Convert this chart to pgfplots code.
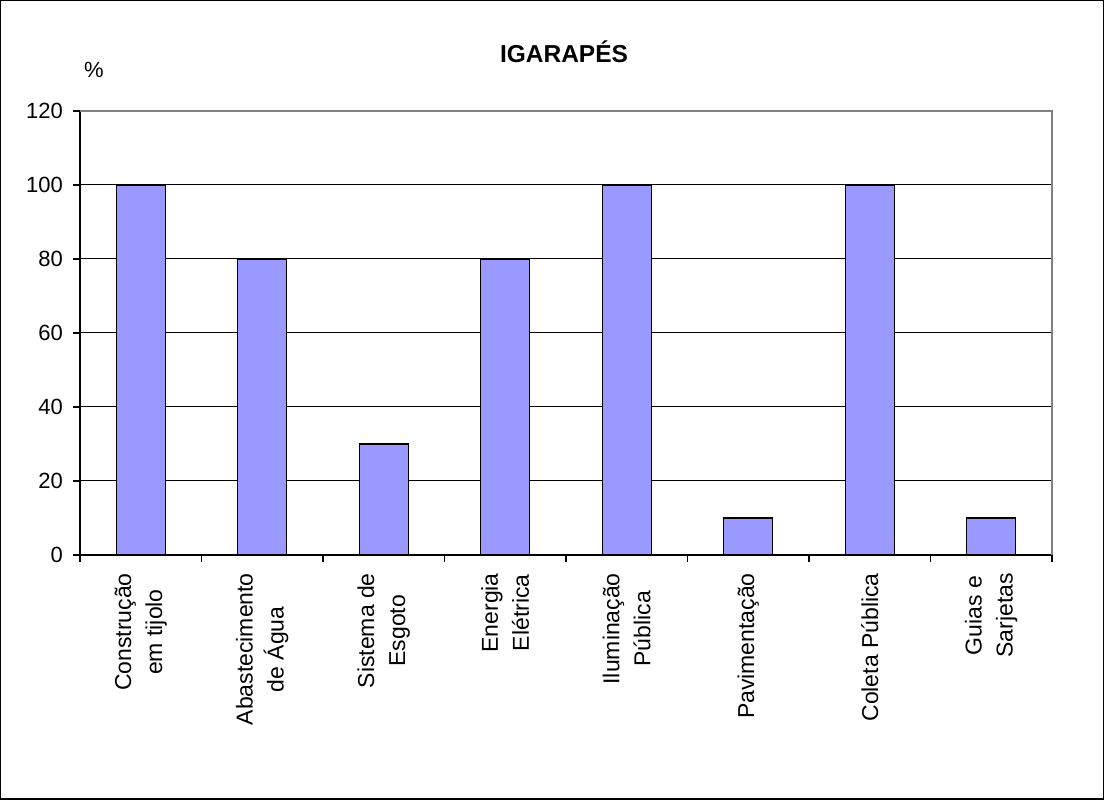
\documentclass[border=0pt]{standalone}
\usepackage{pgfplots}
\pgfplotsset{compat=1.18}
\usepackage{fontspec}
\setmainfont{Liberation Sans}
\definecolor{barblue}{HTML}{9999FF}
\begin{document}
\begin{tikzpicture}[x=1bp,y=1bp]
\draw[line width=1.5bp] (0.75,0.75) rectangle (1103.25,799.25);
\node[font=\bfseries\fontsize{24.5bp}{28bp}\selectfont] at (564,748) {IGARAPÉS};
\node[font=\fontsize{22bp}{26bp}\selectfont] at (94,730) {\%};
\begin{axis}[
  at={(80bp,245bp)}, anchor=south west,
  scale only axis, width=972bp, height=444bp,
  xmin=0, xmax=8, ymin=0, ymax=120,
  axis x line*=bottom, axis y line*=left,
  axis line style={-, black, line width=1.3bp},
  ytick={0,20,...,120},
  ymajorgrids, major grid style={black, line width=1bp},
  tick align=outside,
  major tick length=7bp, minor tick length=7bp,
  tick style={black, line width=1.2bp},
  xtick={0.5,1.5,...,7.5},
  major x tick style={draw=none},
  minor xtick={0,1,...,8},
  xticklabels={{Construção\\em tijolo},{Abastecimento\\de Água},{Sistema de\\Esgoto},{Energia\\Elétrica},{Iluminação\\Pública},{Pavimentação},{Coleta Pública},{Guias e\\Sarjetas}},
  xticklabel style={rotate=90, anchor=east, align=center, inner sep=0pt, font=\fontsize{23bp}{31bp}\selectfont},
  xticklabel shift=11bp,
  yticklabel style={inner sep=0pt, font=\fontsize{22bp}{26bp}\selectfont},
  yticklabel shift=10bp,
  /pgf/number format/assume math mode=true,
  clip=false,
]
\addplot[ybar, bar width=49bp, fill=barblue, draw=black, line width=1.4bp]
  coordinates {(0.5,100) (1.5,80) (2.5,30) (3.5,80) (4.5,100) (5.5,10) (6.5,100) (7.5,10)};
\draw[gray, line width=2bp] (rel axis cs:0,1) -- (rel axis cs:1,1) -- (rel axis cs:1,0);
\end{axis}
\end{tikzpicture}
\end{document}
